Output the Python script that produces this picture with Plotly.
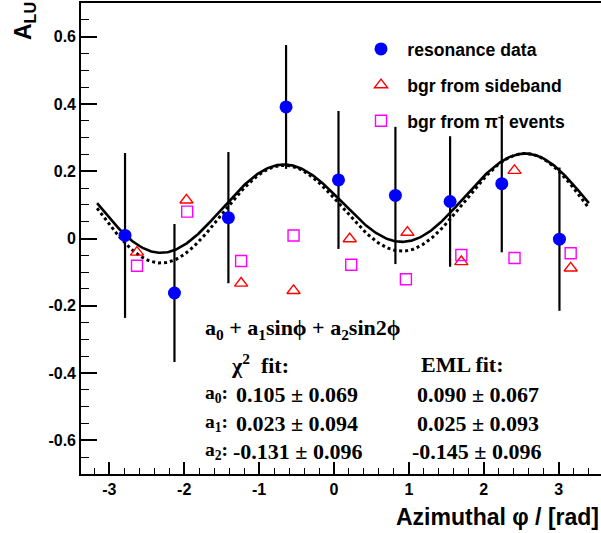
import numpy as np
import plotly.graph_objects as go

# ---------------- data ----------------
phi_res = [-2.79, -2.13, -1.41, -0.64, 0.06, 0.82, 1.55, 2.24, 3.01]
alu_res = [0.009, -0.162, 0.062, 0.391, 0.174, 0.128, 0.110, 0.163, -0.002]
err_res = [0.245, 0.205, 0.195, 0.184, 0.205, 0.204, 0.194, 0.204, 0.213]

phi_sb = [-2.63, -1.97, -1.24, -0.54, 0.21, 0.98, 1.70, 2.41, 3.16]
alu_sb = [-0.041, 0.114, -0.133, -0.155, -0.001, 0.018, -0.069, 0.202, -0.088]

phi_pi = [-2.63, -1.96, -1.24, -0.54, 0.23, 0.96, 1.70, 2.41, 3.16]
alu_pi = [-0.081, 0.080, -0.067, 0.009, -0.078, -0.121, -0.049, -0.058, -0.044]

# fit parameters a0, a1, a2
chi2_par = [0.105, 0.023, -0.131]
chi2_err = [0.069, 0.094, 0.096]
eml_par = [0.090, 0.025, -0.145]
eml_err = [0.067, 0.093, 0.096]

x_tickvals = [-3, -2, -1, 0, 1, 2, 3]
x_ticktext = ["-3", "-2", "-1", "0", "1", "2", "3"]
y_tickvals = [-0.6, -0.4, -0.2, 0, 0.2, 0.4, 0.6]
y_ticktext = ["-0.6", "-0.4", "-0.2", "0", "0.2", "0.4", "0.6"]

# the fitted curves in the original are drawn with a slightly stretched phi scale
CURVE_PHI_SCALE = 1.045
CURVE_PHI_SHIFT = 0.12


def fit_func(p, phi):
    return p[0] + p[1] * np.sin(phi) + p[2] * np.sin(2 * phi)


phi_grid = np.linspace(-np.pi, np.pi, 400)
x_curve = CURVE_PHI_SCALE * phi_grid + CURVE_PHI_SHIFT

fig = go.Figure()

fig.add_trace(go.Scatter(
    x=x_curve, y=fit_func(eml_par, phi_grid), mode="lines",
    line=dict(color="black", width=3, dash="dot"), showlegend=False,
    hoverinfo="skip"))
fig.add_trace(go.Scatter(
    x=x_curve, y=fit_func(chi2_par, phi_grid), mode="lines",
    line=dict(color="black", width=2.6), showlegend=False, hoverinfo="skip"))

NB = "\u00a0\u200a"
fig.add_trace(go.Scatter(
    x=phi_res, y=alu_res, mode="markers", name=NB + "resonance data",
    legendgroup="a",
    marker=dict(symbol="circle", size=13, color="#0000ff"),
    error_y=dict(type="data", array=err_res, color="black", thickness=2.2,
                 width=0)))
fig.add_trace(go.Scatter(
    x=phi_sb, y=alu_sb, mode="markers", name=NB + "bgr from sideband",
    legendgroup="b",
    marker=dict(symbol="triangle-up-open", size=11.5, color="#ff0000",
                line=dict(width=1.4, color="#ff0000"))))
fig.add_trace(go.Scatter(
    x=phi_pi, y=alu_pi, mode="markers",
    name=NB + "bgr from π\u207b events",
    legendgroup="c",
    marker=dict(symbol="square-open", size=11, color="#ff00ff",
                line=dict(width=1.4, color="#ff00ff"))))

W, H = 601, 533
L, R, T, B = 81, 0, 3, 59
pw, ph = W - L - R, H - T - B
XR = [(L - 334) / 74.9, (W - R - 334) / 74.9]
YR = [-0.7, 0.7]


def px2x(px):
    return XR[0] + (px - L) / pw * (XR[1] - XR[0])


def py2y(py):
    return YR[1] - (py - T) / ph * (YR[1] - YR[0])


tick_font = dict(family="Liberation Sans", size=16, color="black", weight="bold")
serif = dict(family="Liberation Serif", size=22, color="black")

fig.update_layout(
    width=W, height=H,
    margin=dict(l=L, r=R, t=T, b=B),
    paper_bgcolor="white", plot_bgcolor="white",
    showlegend=True,
    legend=dict(x=(361 - L) / pw, y=1 - (31 - T) / ph, xanchor="left",
                yanchor="top", bgcolor="rgba(0,0,0,0)",
                font=dict(family="Liberation Sans", size=17.6, color="black",
                          weight="bold"),
                tracegroupgap=10),
    xaxis=dict(range=XR, showgrid=False, zeroline=False,
               tickvals=x_tickvals, ticktext=x_ticktext,
               ticks="inside", ticklen=12, tickwidth=1.5, tickcolor="black",
               minor=dict(dtick=0.2, ticks="inside", ticklen=6, tickwidth=1.3,
                          tickcolor="black", showgrid=False),
               showline=True, linecolor="black", linewidth=1.6, mirror=True,
               tickfont=tick_font),
    yaxis=dict(range=YR, showgrid=False, zeroline=False,
               tickvals=y_tickvals, ticktext=y_ticktext,
               ticks="inside", ticklen=16, tickwidth=1.5, tickcolor="black",
               minor=dict(dtick=0.05, ticks="inside", ticklen=8, tickwidth=1.3,
                          tickcolor="black", showgrid=False),
               showline=True, linecolor="black", linewidth=1.6, mirror=False,
               tickfont=tick_font),
)

ann = []
# axis titles
ann.append(dict(text="<b>Azimuthal φ / [rad]</b>", xref="paper", yref="paper",
                x=(601 - L) / pw, y=-(517 - (T + ph)) / ph,
                xanchor="right", yanchor="middle", showarrow=False,
                font=dict(family="Liberation Sans", size=23, color="black")))
ann.append(dict(text="<b>A<sub>LU</sub></b>", xref="paper", yref="paper",
                x=(25 - L) / pw, y=1 - (21 - T) / ph, textangle=-90,
                xanchor="center", yanchor="middle", showarrow=False,
                font=dict(family="Liberation Sans", size=23, color="black")))


def fmt(v):
    return f"{v:.3f}"


def txt(s, px, py, size=22):
    ann.append(dict(text=s, x=px2x(px), y=py2y(py), xref="x", yref="y",
                    xanchor="left", yanchor="middle", showarrow=False,
                    font=dict(serif, size=size)))


txt("<b>a<sub>0</sub> + a<sub>1</sub>sinϕ + a<sub>2</sub>sin2ϕ</b>", 203, 329)
txt("<b>χ<sup>2</sup>  fit:</b>", 229, 364)
txt("<b>EML fit:</b>", 419, 364)
row_y = [394, 423, 451]
for i in range(3):
    txt(f"<b>a<sub>{i}</sub>:</b>", 203, row_y[i], size=19.5)
    cx = 231 if chi2_par[i] < 0 else 234
    ex = 410 if eml_par[i] < 0 else 415
    txt(f"<b>{fmt(chi2_par[i])} ± {fmt(chi2_err[i])}</b>", cx, row_y[i])
    txt(f"<b>{fmt(eml_par[i])} ± {fmt(eml_err[i])}</b>", ex, row_y[i])

fig.update_layout(annotations=ann)
fig.write_html("out.html", config={"displayModeBar": False},
               post_script="document.body.style.margin='0';"
                           "document.body.style.overflow='hidden';")
